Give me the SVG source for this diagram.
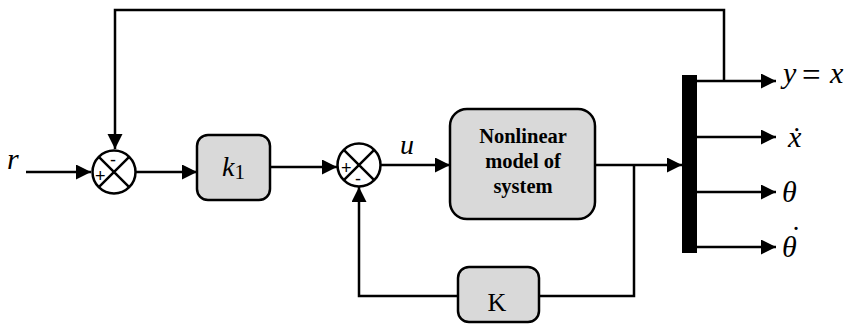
<svg xmlns="http://www.w3.org/2000/svg" width="849" height="325" viewBox="0 0 849 325">
<style>
.ln{fill:none;stroke:#000;stroke-width:2.5;stroke-linejoin:miter}
.box{fill:#d9d9d9;stroke:#000;stroke-width:2.5}
.sum{fill:#fff;stroke:#000;stroke-width:2.5}
</style>
<defs>
<marker id="ah" markerUnits="userSpaceOnUse" markerWidth="16" markerHeight="16" refX="15" refY="7.5" orient="auto">
<path d="M0,0 L15,7.5 L0,15 z" fill="#000"/>
</marker>
</defs>
<g id="connectors">
<path class="ln" d="M26,172 L91,172" marker-end="url(#ah)"/>
<path class="ln" d="M724,81 L724,10 L115,10 L115,149" marker-end="url(#ah)"/>
<path class="ln" d="M136,172 L197,172" marker-end="url(#ah)"/>
<path class="ln" d="M270,167 L337,167" marker-end="url(#ah)"/>
<path class="ln" d="M381,165 L450,165" marker-end="url(#ah)"/>
<path class="ln" d="M595,165 L682,165" marker-end="url(#ah)"/>
<path class="ln" d="M634,165 L634,296 L359,296 L359,187" marker-end="url(#ah)"/>
<path class="ln" d="M697,81 L776,81" marker-end="url(#ah)"/>
<path class="ln" d="M697,137 L776,137" marker-end="url(#ah)"/>
<path class="ln" d="M697,192 L776,192" marker-end="url(#ah)"/>
<path class="ln" d="M697,247 L776,247" marker-end="url(#ah)"/>
</g>
<g id="input-r">
<text x="7" y="169" font-family="Liberation Serif, serif" font-style="italic" font-size="30">r</text>
</g>
<g id="sum1">
<circle class="sum" cx="114" cy="172" r="21.5"/>
<path class="ln" d="M98.8,156.8 L129.2,187.2 M129.2,156.8 L98.8,187.2"/>
<text x="110" y="166" font-family="Liberation Sans, sans-serif" font-size="18">-</text>
<text x="95" y="182" font-family="Liberation Sans, sans-serif" font-size="18">+</text>
</g>
<g id="k1">
<rect class="box" x="197" y="135" width="73" height="65" rx="11"/>
<text x="222" y="176" font-family="Liberation Serif, serif" font-style="italic" font-size="28">k<tspan font-style="normal" font-size="21" dy="3">1</tspan></text>
</g>
<g id="sum2">
<circle class="sum" cx="359" cy="165" r="21.5"/>
<path class="ln" d="M343.8,149.8 L374.2,180.2 M374.2,149.8 L343.8,180.2"/>
<text x="341" y="174" font-family="Liberation Sans, sans-serif" font-size="18">+</text>
<text x="355" y="185" font-family="Liberation Sans, sans-serif" font-size="18">-</text>
</g>
<g id="u-label">
<text x="400" y="154" font-family="Liberation Serif, serif" font-style="italic" font-size="28">u</text>
</g>
<g id="plant">
<rect class="box" x="450" y="109" width="145" height="110" rx="17"/>
<text x="523" y="143" font-family="Liberation Serif, serif" font-weight="bold" font-size="20.5" text-anchor="middle">Nonlinear</text>
<text x="523" y="168" font-family="Liberation Serif, serif" font-weight="bold" font-size="20.5" text-anchor="middle">model of</text>
<text x="523" y="193" font-family="Liberation Serif, serif" font-weight="bold" font-size="20.5" text-anchor="middle">system</text>
</g>
<g id="K">
<rect class="box" x="458" y="267" width="81" height="55" rx="11"/>
<text x="497" y="311" font-family="Liberation Serif, serif" font-size="26" text-anchor="middle">K</text>
</g>
<g id="bus">
<rect x="682" y="75" width="15" height="178" fill="#000"/>
</g>
<g id="outputs">
<text x="783" y="83" font-family="Liberation Serif, serif" font-style="italic" font-size="30">y<tspan x="802" y="86" font-style="normal" font-size="33">=</tspan><tspan x="830" y="83">x</tspan></text>
<text x="788" y="147" font-family="Liberation Serif, serif" font-style="italic" font-size="30">ẋ</text>
<text x="782" y="202" font-family="Liberation Serif, serif" font-style="italic" font-size="30">θ</text>
<text x="782" y="257" font-family="Liberation Serif, serif" font-style="italic" font-size="30">θ<tspan x="791" y="247" font-style="normal">˙</tspan></text>
</g>
</svg>
